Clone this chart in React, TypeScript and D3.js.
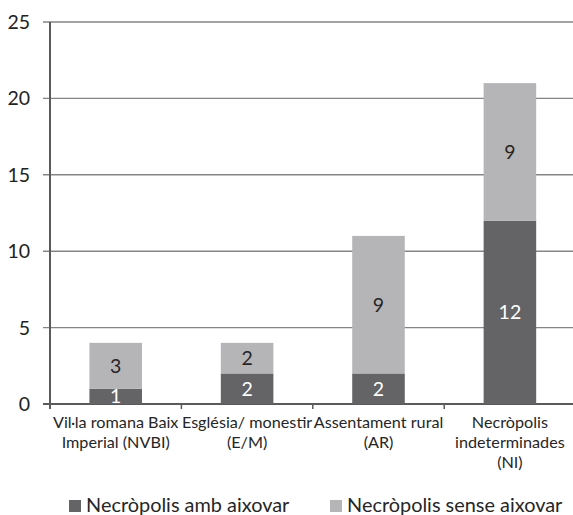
import React from "react";
import * as d3 from "d3";

const categories = [
  "Vil·la romana Baix\nImperial (NVBI)",
  "Església/ monestir\n(E/M)",
  "Assentament rural\n(AR)",
  "Necròpolis\nindeterminades\n(NI)",
];
const ambAixovar = [1, 2, 2, 12];
const senseAixovar = [3, 2, 9, 9];
const seriesNames = ["Necròpolis amb aixovar", "Necròpolis sense aixovar"];
const yTicks = [0, 5, 10, 15, 20, 25];

const W = 573;
const H = 515;
const DARK = "#646466";
const LIGHT = "#b5b5b8";
const FONT = "Lato, 'Open Sans', sans-serif";

export default function App() {
  const x = d3.scaleBand<string>().domain(categories).range([50, 575.6]).paddingInner(0).paddingOuter(0);
  const y = d3.scaleLinear().domain([0, 25]).range([404, 22]);
  const bw = x.bandwidth() * 0.4;

  const stack = d3.stack<number>().keys(["a", "s"]).value((i, k) => (k === "a" ? ambAixovar[i] : senseAixovar[i]));
  const layers = stack(categories.map((_, i) => i) as any);

  return (
    <svg width={W} height={H} style={{ position: "absolute", left: 0, top: 0, background: "#fff" }} fontFamily={FONT}>
      {yTicks.map((t) => (
        <g key={t}>
          <line x1={43} x2={W} y1={y(t)} y2={y(t)} stroke={t === 0 ? "#5a5a5a" : "#858585"} strokeWidth={t === 0 ? 2 : 1.4} />
          <text x={30} y={y(t)} dy="0.36em" textAnchor="end" fontSize={19.5} fill="#222">
            {t}
          </text>
        </g>
      ))}
      {layers.map((layer, li) =>
        layer.map((d, i) => {
          const cx = (x(categories[i]) as number) + x.bandwidth() / 2;
          const val = d[1] - d[0];
          return (
            <g key={li + "-" + i}>
              <rect x={cx - bw / 2} width={bw} y={y(d[1])} height={y(d[0]) - y(d[1])} fill={li === 0 ? DARK : LIGHT} />
              <text x={cx} y={(y(d[0]) + y(d[1])) / 2} dy="0.36em" textAnchor="middle" fontSize={19.5} fill={li === 0 ? "#fff" : "#262626"}>
                {val}
              </text>
            </g>
          );
        })
      )}
      <line x1={50} x2={50} y1={22} y2={405} stroke="#5a5a5a" strokeWidth={2} />
      {categories.map((c, i) => (
        <line key={"t" + i} x1={(x(c) as number) + x.bandwidth()} x2={(x(c) as number) + x.bandwidth()} y1={404} y2={409} stroke="#5a5a5a" strokeWidth={1.5} />
      ))}
      <line x1={50} x2={50} y1={404} y2={409} stroke="#5a5a5a" strokeWidth={2} />
      {categories.map((c, i) => {
        const cx = (x(c) as number) + x.bandwidth() / 2;
        return (
          <text key={"c" + i} textAnchor="middle" fontSize={16.2} fill="#262626">
            {c.split("\n").map((ln, j) => (
              <tspan key={j} x={cx} y={428 + j * 20}>
                {ln}
              </tspan>
            ))}
          </text>
        );
      })}
      {seriesNames.map((n, i) => {
        const lx = i === 0 ? 69 : 330;
        return (
          <g key={n}>
            <rect x={lx} y={500} width={12} height={12} fill={i === 0 ? DARK : LIGHT} />
            <text x={lx + 17} y={512} fontSize={19.9} fill="#262626">
              {n}
            </text>
          </g>
        );
      })}
    </svg>
  );
}
